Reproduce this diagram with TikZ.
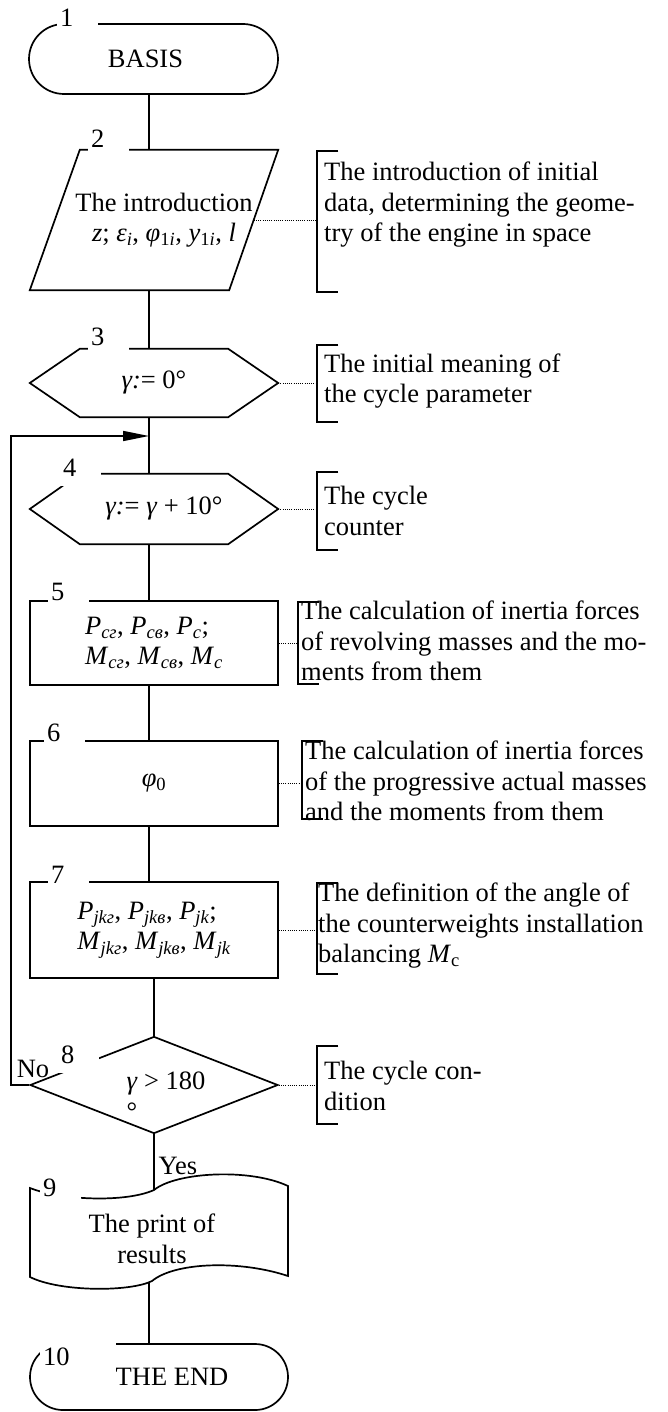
\documentclass[tikz,border=0pt]{standalone}
\usepackage{fontspec}
\setmainfont{Liberation Serif}
\usetikzlibrary{arrows.meta, shapes.geometric}
\newcommand{\sbit}[1]{\textsubscript{\itshape #1}}

\begin{document}
\begin{tikzpicture}[
    x=1pt, y=-1pt,
    every node/.style={font=\fontsize{26.5}{30.5}\selectfont, inner sep=0pt},
    flowline/.style={line width=1.7pt},
    term/.style={draw, flowline, rectangle, rounded corners=33pt, minimum width=258pt, minimum height=66pt},
    iobox/.style={minimum width=248pt, minimum height=140pt, align=center,
        append after command={\pgfextra{\draw[flowline] (\tikzlastnode.south west)
            -- ([xshift=50pt]\tikzlastnode.north west) -- (\tikzlastnode.north east)
            -- ([xshift=-49pt]\tikzlastnode.south east) -- cycle;}}},
    hexbox/.style={minimum width=248pt, align=center,
        append after command={\pgfextra{\draw[flowline] (\tikzlastnode.west)
            -- ([xshift=50pt]\tikzlastnode.north west) -- ([xshift=-50pt]\tikzlastnode.north east)
            -- (\tikzlastnode.east) -- ([xshift=-50pt]\tikzlastnode.south east)
            -- ([xshift=50pt]\tikzlastnode.south west) -- cycle;}}},
    proc/.style={draw, flowline, rectangle, minimum width=248pt, align=left},
    cond/.style={draw, flowline, diamond, aspect=2.56, minimum width=248pt, minimum height=97pt},
    brk/.style={anchor=west, minimum width=21pt,
        append after command={\pgfextra{\draw[line width=1.8pt] (\tikzlastnode.north east)
            -- (\tikzlastnode.north west) -- (\tikzlastnode.south west) -- (\tikzlastnode.south east);}}},
    note/.style={anchor=west, align=left},
    num/.style={anchor=west, fill=white, inner xsep=3pt, text width=35pt, align=left, minimum height=36pt},
    link/.style={line width=0.9pt, dash pattern=on 1pt off 1.2pt}
]
\useasboundingbox (0,0) rectangle (667,1412);

% Start
\node[term, minimum width=249pt, minimum height=70pt, rounded corners=35pt] (t1) at (153.5,59) {BASIS\hspace*{16pt}};

% Input of data
\node[iobox] (p2) at (154,220) {\hspace*{20pt}The introduction\\\hspace*{20pt}\textit{z}; \textit{ε}\sbit{i}, \textit{φ}\textsubscript{1\textit{i}}, \textit{y}\textsubscript{1\textit{i}}, \textit{l}};

% Cycle
\node[hexbox, minimum height=68pt] (c3) at (154,383) {\textit{γ:}= 0°};
\node[hexbox, minimum height=70pt] (c4) at (154,509) {\hspace*{20pt}\textit{γ:}= \textit{γ} + 10°};

% Calculations
\node[proc, minimum height=84pt] (b5) at (154,643) {\textit{P}\sbit{cг}, \textit{P}\sbit{cв}, \textit{P}\sbit{c};\\\textit{M}\sbit{cг}, \textit{M}\sbit{cв}, \textit{M}\sbit{c}};
\node[proc, minimum height=85pt] (b6) at (154,783.5) {\textit{φ}\textsubscript{0}};
\node[proc, minimum height=96pt] (b7) at (154,930) {\textit{P}\sbit{jkг}, \textit{P}\sbit{jkв}, \textit{P}\sbit{jk};\\\textit{M}\sbit{jkг}, \textit{M}\sbit{jkв}, \textit{M}\sbit{jk}};

% Condition
\node[cond] (c8) at (154,1085) {};
\node[align=left] (c8t) at (166,1096) {\textit{γ} > 180\\°};

% Print
\draw[flowline] (30,1277) -- (30,1188) .. controls (60,1200) and (125,1203) .. (154,1190)
    .. controls (176,1172) and (250,1168) .. (288,1186) -- (288,1276)
    .. controls (240,1260) and (175,1262) .. (152,1281)
    .. controls (130,1292) and (60,1292) .. (30,1277) -- cycle;
\coordinate (d9top) at (154,1190);
\coordinate (d9bot) at (149,1282);
\node[align=center] (d9) at (152,1239) {The print of\\results};

% End
\node[term] (t10) at (159,1377) {\hspace*{26pt}THE END};

% Connections
\coordinate (axis) at (149,0);
\draw[flowline] (t1.south -| axis) -- (p2.north -| axis);
\draw[flowline] (p2.south -| axis) -- (c3.north -| axis);
\draw[flowline] (c3.south -| axis) -- (c4.north -| axis);
\draw[flowline] (c4.south -| axis) -- (b5.north -| axis);
\draw[flowline] (b5.south -| axis) -- (b6.north -| axis);
\draw[flowline] (b6.south -| axis) -- (b7.north -| axis);
\draw[flowline] (b7.south -| c8.north) -- (c8.north);
\draw[flowline] (c8.south) -- (d9top);
\draw[flowline] (d9bot) -- (t10.north -| d9bot);

% Loop back
\coordinate (loopin) at (149,436);
\draw[flowline, -{Triangle[length=26pt, width=10pt]}] (c8.west) -- ++(-18pt,0) |- (loopin);
\node (no8) at (33,1069) {No};
\node (yes8) at (178,1166) {Yes};

% Numbers
\node[num] (n1) at (57,18) {1};
\node[num] (n2) at (88,139) {2};
\node[num] (n3) at (88,337) {3};
\node[num] (n4) at (60,468) {4};
\node[num] (n5) at (48,592) {5};
\node[num] (n6) at (44,733) {6};
\node[num] (n7) at (48,875) {7};
\node[num] (n8) at (58,1055) {8};
\node[num] (n9) at (40,1188) {9};
\node[num, text width=70pt] (n10) at (40,1357) {10};

% Comments
\node[brk, minimum height=141pt] (a2b) at (317,221.5) {};
\node[note] (a2) at (324,205) {The introduction of initial\\data, determining the geome-\\try of the engine in space};
\draw[link] ([xshift=-24.5pt]p2.east) -- (p2.east -| a2b.west);

\node[brk, minimum height=77pt] (a3b) at (317,383.5) {};
\node[note] (a3) at (324,381) {The initial meaning of\\the cycle parameter};
\draw[link] (c3.east) -- (c3.east -| a3b.west);

\node[brk, minimum height=78pt] (a4b) at (317,511) {};
\node[note] (a4) at (324,511) {The cycle\\counter};
\draw[link] (c4.east) -- (c4.east -| a4b.west);

\node[brk, minimum height=82pt] (a5b) at (298,643) {};
\node[note] (a5) at (301,641) {The calculation of inertia forces\\of revolving masses and the mo-\\ments from them};
\draw[link] (b5.east) -- (b5.east -| a5b.west);

\node[brk, minimum height=78pt] (a6b) at (302,780) {};
\node[note] (a6) at (305,781) {The calculation of inertia forces\\of the progressive actual masses\\and the moments from them};
\draw[link] (b6.east) -- (b6.east -| a6b.west);

\node[brk, minimum height=91pt] (a7b) at (317,928.5) {};
\node[note] (a7) at (318,926) {The definition of the angle of\\the counterweights installation\\balancing \textit{M}\textsubscript{c}};
\draw[link] (b7.east) -- (b7.east -| a7b.west);

\node[brk, minimum height=78pt] (a8b) at (317,1085) {};
\node[note] (a8) at (324,1086) {The cycle con-\\dition};
\draw[link] (c8.east) -- (c8.east -| a8b.west);

\end{tikzpicture}
\end{document}
